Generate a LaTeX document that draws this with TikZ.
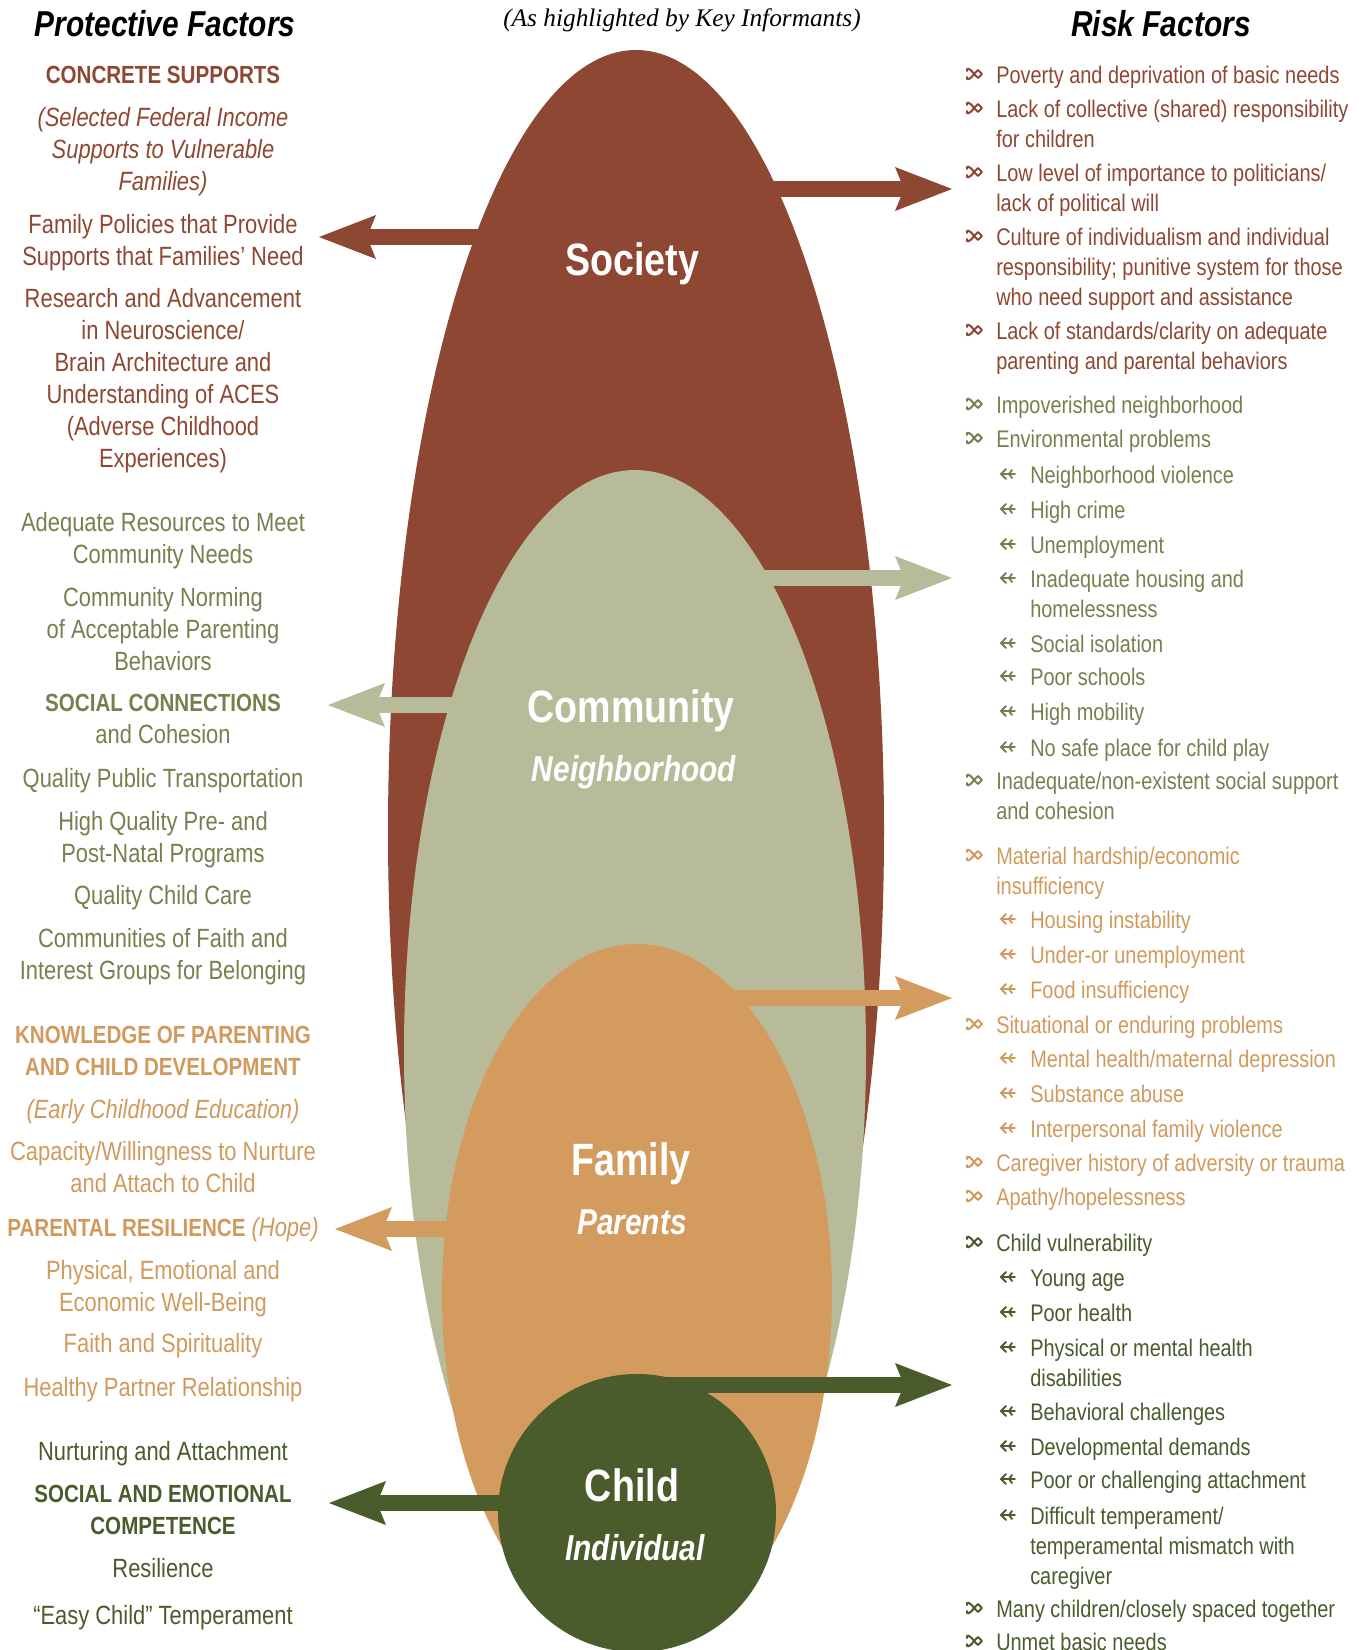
\documentclass[tikz,border=0pt]{standalone}
\usepackage{fontspec}
\setmainfont{Liberation Sans}[FakeStretch=0.83]
\newfontfamily\notefont{Liberation Serif}
\usetikzlibrary{arrows.meta,shapes.geometric}

\definecolor{socbrown}{HTML}{8E4732}
\definecolor{comfill}{HTML}{B8BB9A}
\definecolor{comtext}{HTML}{7A7E4E}
\definecolor{famfill}{HTML}{D39B5E}
\definecolor{famtext}{HTML}{D19A5D}
\definecolor{kidgreen}{HTML}{4A5B2C}

\newcommand{\pfsize}{\fontsize{19.8pt}{24pt}\selectfont}
\newcommand{\pfheadsize}{\fontsize{18.6pt}{24pt}\selectfont\bfseries}
\newcommand{\pfhead}[1]{{\pfheadsize #1}}
\newcommand{\rfsize}{\fontsize{18pt}{22.5pt}\selectfont}
% first line on the baseline, the rest hanging below
\newcommand{\stackc}[1]{\begin{tabular}[t]{@{}c@{}}#1\end{tabular}}
\newcommand{\stackl}[1]{\begin{tabular}[t]{@{}l@{}}#1\end{tabular}}

\begin{document}
\begin{tikzpicture}[x=0.75pt, y=-0.75pt]
    \tikzset{
        layer/.style={ellipse, inner sep=0pt, draw=none},
        layername/.style={font=\fontsize{34pt}{36pt}\selectfont\bfseries, text=white, anchor=base, inner sep=0pt},
        layersub/.style={font=\fontsize{27pt}{30pt}\selectfont\bfseries\itshape, text=white, anchor=base, inner sep=0pt},
        heading/.style={font=\fontsize{27pt}{30pt}\selectfont\bfseries\itshape, anchor=base, inner sep=0pt},
        pfplain/.style={font=\pfsize, anchor=base, inner sep=0pt},
        pfbold/.style={pfplain, font=\pfheadsize},
        pfital/.style={pfplain, font=\pfsize\itshape},
        risk/.style={font=\rfsize, anchor=base west, inner sep=0pt},
        fat/.style={line width=12pt, -{Stealth[length=42.75pt, width=33pt, inset=6.75pt, line width=0pt]}},
        knot/.pic={
            \draw[line width=1.5pt, line cap=round, line join=round]
                (-7,-3) .. controls (-8,-7) and (-4,-6) .. (0,0) .. controls (-4,6) and (-8,7) .. (-7,3);
            \draw[line width=1.5pt, line join=round] (0,0) -- (4,-4) -- (8,0) -- (4,4) -- cycle;
        },
        barb/.pic={
            \draw[line width=1.4pt, line cap=round] (-7,0) -- (7,0) (-2,-5) -- (-7,0) -- (-2,5)
                (4,-4) -- (1,0) -- (4,4);
        }
    }
    \useasboundingbox (0,0) rectangle (1366,1650);

    % titles
    \node[heading] (protect) at (165,36) {Protective Factors};
    \node[heading] (risks) at (1161,36) {Risk Factors};
    \node[font=\notefont\fontsize{19pt}{22pt}\selectfont\itshape, anchor=base, inner sep=0pt] (note) at (682,26) {(As highlighted by Key Informants)};

    % nested layers, each with its pair of arrows
    \coordinate (socL) at (319,237);
    \coordinate (socR) at (952,189);
    \coordinate (comL) at (328,705);
    \coordinate (comR) at (952,578);
    \coordinate (famL) at (335,1229);
    \coordinate (famR) at (952,998);
    \coordinate (kidL) at (329,1503);
    \coordinate (kidR) at (952,1385);

    \node[layer, fill=socbrown, minimum width=372pt, minimum height=1171.5pt] (society) at (636,831) {};
    \draw[fat, socbrown] (socL -| society.center) -- (socL);
    \draw[fat, socbrown] (socR -| society.center) -- (socR);

    \node[layer, fill=comfill, minimum width=346.5pt, minimum height=873pt] (community) at (635,1052) {};
    \draw[fat, comfill] (comL -| community.center) -- (comL);
    \draw[fat, comfill] (comR -| community.center) -- (comR);

    \node[layer, fill=famfill, minimum width=292.5pt, minimum height=525pt] (family) at (637,1294) {};
    \draw[fat, famfill] (famL -| family.center) -- (famL);
    \draw[fat, famfill] (famR -| family.center) -- (famR);

    \node[circle, inner sep=0pt, fill=kidgreen, minimum size=208.5pt] (child) at (637,1513) {};
    \draw[fat, kidgreen] (kidL -| child.center) -- (kidL);
    \draw[fat, kidgreen] (kidR -| child.center) -- (kidR);

    \node[layername] (societyname) at (632,275) {Society};
    \node[layername] (communityname) at (631,722) {Community};
    \node[layersub] (communitysub) at (634,781) {Neighborhood};
    \node[layername] (familyname) at (631,1175) {Family};
    \node[layersub] (familysub) at (632,1234) {Parents};
    \node[layername] (childname) at (632,1501) {Child};
    \node[layersub] (childsub) at (635,1560) {Individual};

    % protective factors
    \foreach \y/\s/\t [count=\i] in {
        83/pfbold/{CONCRETE SUPPORTS},
        126/pfital/{(Selected Federal Income\\Supports to Vulnerable\\Families)},
        233/pfplain/{Family Policies that Provide\\Supports that Families’ Need},
        307/pfplain/{Research and Advancement\\in Neuroscience/\\Brain Architecture and\\Understanding of ACES\\(Adverse Childhood\\Experiences)}}
        \node[\s, text=socbrown] (pfsoc\i) at (163,\y) {\stackc{\t}};
    \foreach \y/\s/\t [count=\i] in {
        531/pfplain/{Adequate Resources to Meet\\Community Needs},
        606/pfplain/{Community Norming\\of Acceptable Parenting\\Behaviors},
        711/pfplain/{\pfhead{SOCIAL CONNECTIONS}\\and Cohesion},
        787/pfplain/{Quality Public Transportation},
        830/pfplain/{High Quality Pre- and\\Post-Natal Programs},
        904/pfplain/{Quality Child Care},
        947/pfplain/{Communities of Faith and\\Interest Groups for Belonging}}
        \node[\s, text=comtext] (pfcom\i) at (163,\y) {\stackc{\t}};
    \foreach \y/\s/\t [count=\i] in {
        1043/pfbold/{KNOWLEDGE OF PARENTING\\AND CHILD DEVELOPMENT},
        1118/pfital/{(Early Childhood Education)},
        1160/pfplain/{Capacity/Willingness to Nurture\\and Attach to Child},
        1236/pfplain/{\pfhead{PARENTAL RESILIENCE} \textit{(Hope)}},
        1279/pfplain/{Physical, Emotional and\\Economic Well-Being},
        1352/pfplain/{Faith and Spirituality},
        1396/pfplain/{Healthy Partner Relationship}}
        \node[\s, text=famtext] (pffam\i) at (163,\y) {\stackc{\t}};
    \foreach \y/\s/\t [count=\i] in {
        1460/pfplain/{Nurturing and Attachment},
        1502/pfbold/{SOCIAL AND EMOTIONAL\\COMPETENCE},
        1577/pfplain/{Resilience},
        1624/pfplain/{“Easy Child” Temperament}}
        \node[\s, text=kidgreen] (pfkid\i) at (163,\y) {\stackc{\t}};

    % risk factors
    \foreach \x/\y/\g/\t [count=\i] in {
        974/83/knot/{Poverty and deprivation of basic needs},
        974/117/knot/{Lack of collective (shared) responsibility\\for children},
        974/181/knot/{Low level of importance to politicians/\\lack of political will},
        974/245/knot/{Culture of individualism and individual\\responsibility; punitive system for those\\who need support and assistance},
        974/339/knot/{Lack of standards/clarity on adequate\\parenting and parental behaviors}}
    {
        \pic[socbrown] at (\x,\y-9) {\g};
        \node[risk, text=socbrown] (rfsoc\i) at (\x+22,\y) {\stackl{\t}};
    }
    \foreach \x/\y/\g/\t [count=\i] in {
        974/413/knot/{Impoverished neighborhood},
        974/447/knot/{Environmental problems},
        1008/483/barb/{Neighborhood violence},
        1008/518/barb/{High crime},
        1008/553/barb/{Unemployment},
        1008/587/barb/{Inadequate housing and\\homelessness},
        1008/652/barb/{Social isolation},
        1008/685/barb/{Poor schools},
        1008/720/barb/{High mobility},
        1008/756/barb/{No safe place for child play},
        974/789/knot/{Inadequate/non-existent social support\\and cohesion}}
    {
        \pic[comtext] at (\x,\y-9) {\g};
        \node[risk, text=comtext] (rfcom\i) at (\x+22,\y) {\stackl{\t}};
    }
    \foreach \x/\y/\g/\t [count=\i] in {
        974/864/knot/{Material hardship/economic\\insufficiency},
        1008/928/barb/{Housing instability},
        1008/963/barb/{Under-or unemployment},
        1008/998/barb/{Food insufficiency},
        974/1033/knot/{Situational or enduring problems},
        1008/1067/barb/{Mental health/maternal depression},
        1008/1102/barb/{Substance abuse},
        1008/1137/barb/{Interpersonal family violence},
        974/1171/knot/{Caregiver history of adversity or trauma},
        974/1205/knot/{Apathy/hopelessness}}
    {
        \pic[famtext] at (\x,\y-9) {\g};
        \node[risk, text=famtext] (rffam\i) at (\x+22,\y) {\stackl{\t}};
    }
    \foreach \x/\y/\g/\t [count=\i] in {
        974/1251/knot/{Child vulnerability},
        1008/1286/barb/{Young age},
        1008/1321/barb/{Poor health},
        1008/1356/barb/{Physical or mental health\\disabilities},
        1008/1420/barb/{Behavioral challenges},
        1008/1455/barb/{Developmental demands},
        1008/1488/barb/{Poor or challenging attachment},
        1008/1524/barb/{Difficult temperament/\\temperamental mismatch with\\caregiver},
        974/1617/knot/{Many children/closely spaced together},
        974/1650/knot/{Unmet basic needs}}
    {
        \pic[kidgreen] at (\x,\y-9) {\g};
        \node[risk, text=kidgreen] (rfkid\i) at (\x+22,\y) {\stackl{\t}};
    }
\end{tikzpicture}
\end{document}
